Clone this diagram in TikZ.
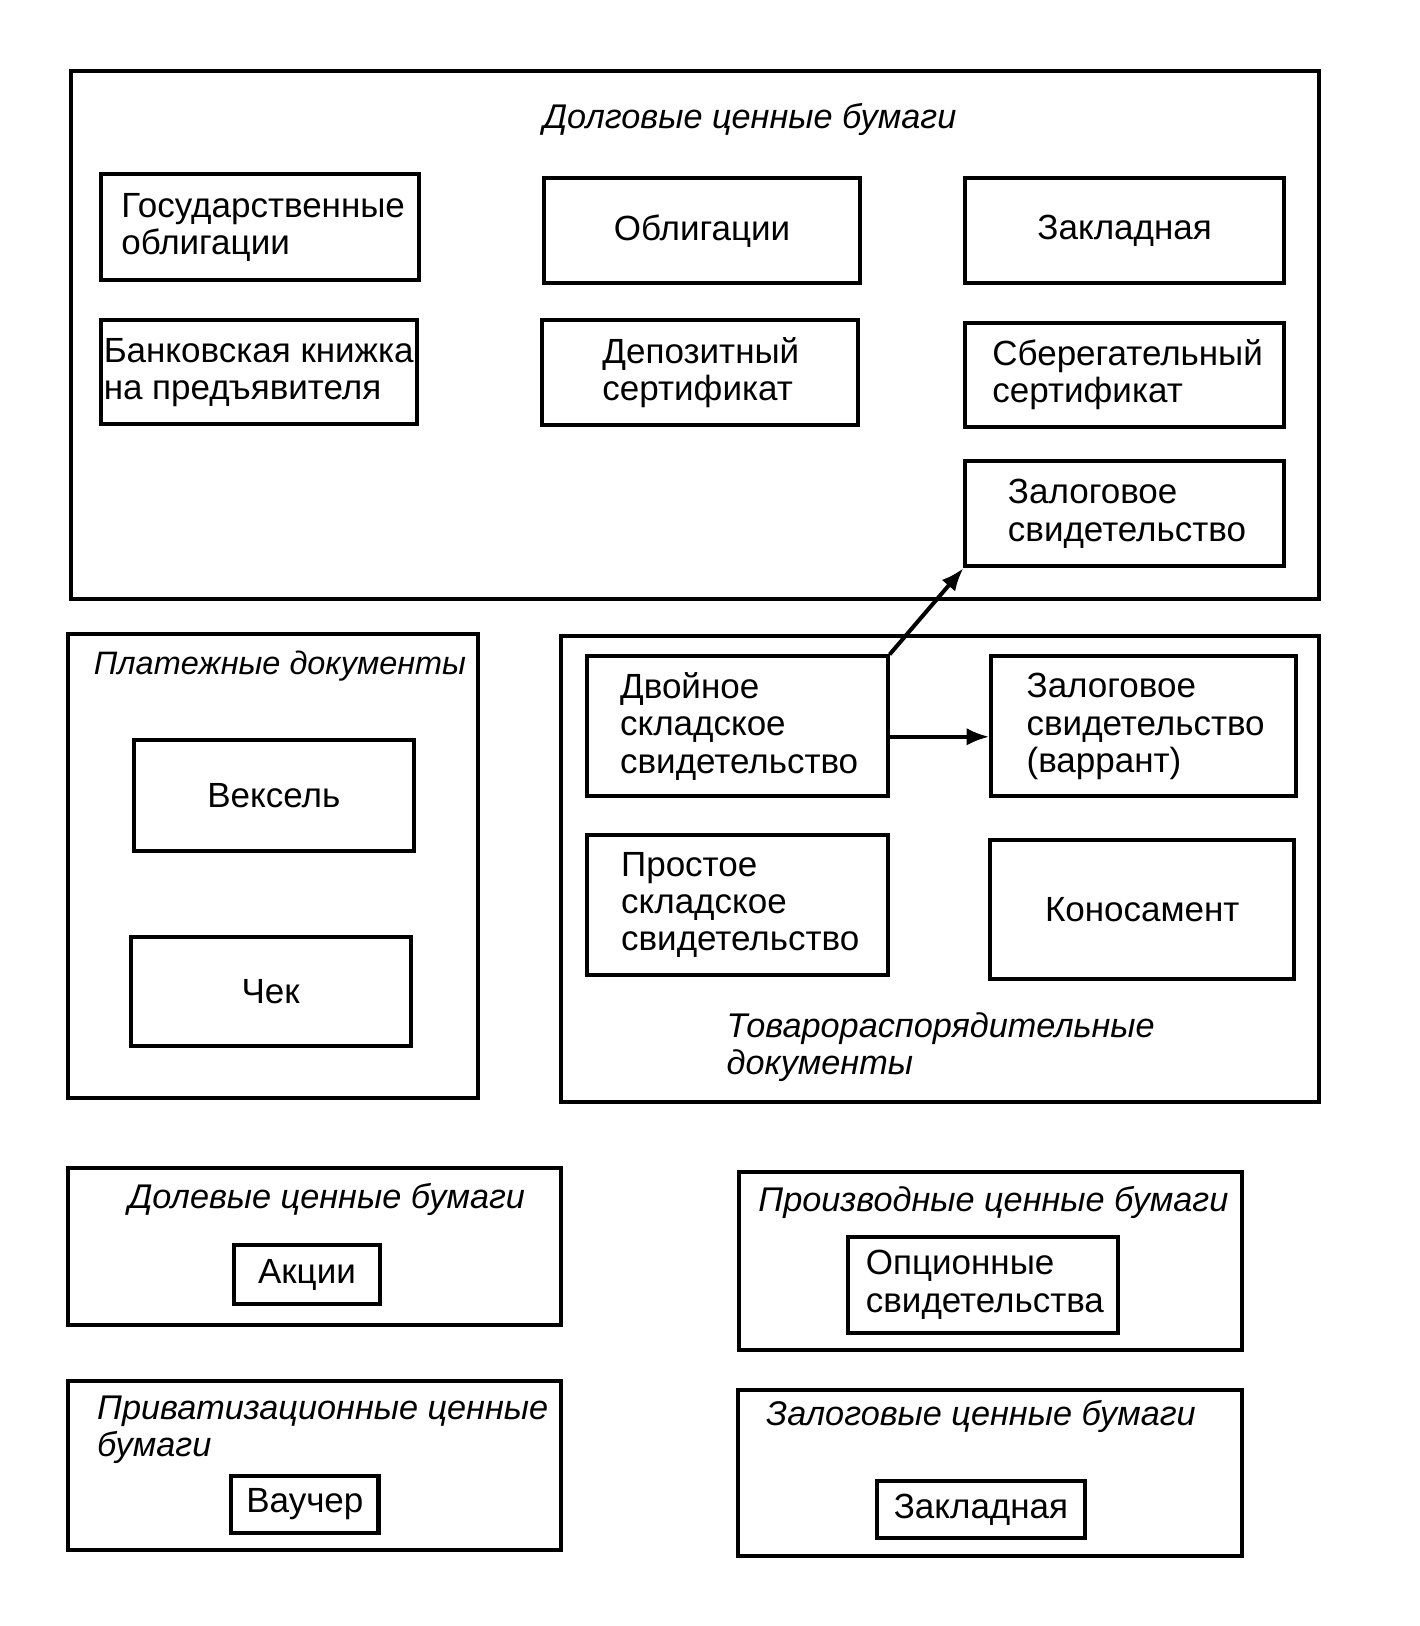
\documentclass[tikz,border=0pt]{standalone}
\usepackage{fontspec}
\setmainfont{Liberation Sans}
\usetikzlibrary{arrows.meta,positioning}
\tikzset{>={Latex[length=2.2mm,width=1.7mm]}}
\tikzset{
    frame/.style={draw,rectangle,line width=1.1pt,inner sep=0pt},
    doc/.style={frame,font=\fontsize{9.6}{10.2}\selectfont},
    group/.style={font=\fontsize{9.4}{10.2}\selectfont\itshape,inner sep=0pt},
}

\begin{document}
\begin{tikzpicture}[x=0.1mm,y=-0.1mm]
            \useasboundingbox (0,0) rectangle (1369,1568);
            % outer groups
            \node[frame,minimum width=120.4mm,minimum height=51mm] (dolgovye) at (670,323) {};
            \node[frame,minimum width=39.5mm,minimum height=44.8mm] (platezh) at (263.5,835) {};
            \node[frame,minimum width=73.1mm,minimum height=45mm] (tovar) at (906.5,838) {};
            \node[frame,minimum width=47.5mm,minimum height=15.2mm] (dolevye) at (303.5,1202) {};
            \node[frame,minimum width=48.5mm,minimum height=17.2mm] (proizv) at (955.5,1216) {};
            \node[frame,minimum width=47.5mm,minimum height=16.3mm] (privat) at (303.5,1413.5) {};
            \node[frame,minimum width=48.6mm,minimum height=16mm] (zalogovye) at (955,1420) {};
            % titles
            \node[group] (dolgovyetitle) at (723,115) {Долговые ценные бумаги};
            \node[group,font=\fontsize{8.9}{10.2}\selectfont\itshape] (platezhtitle) at (270,642) {Платежные документы};
            \node[group,anchor=west,align=left] (tovartitle) at (700,1010) {Товарораспорядительные\\документы};
            \node[group] (dolevyetitle) at (315,1157) {Долевые ценные бумаги};
            \node[group] (proizvtitle) at (958,1160) {Производные ценные бумаги};
            \node[group,anchor=west,align=left] (privattitle) at (93,1379) {Приватизационные ценные\\бумаги};
            \node[group] (zalogovyetitle) at (946,1366) {Залоговые ценные бумаги};
            % debt papers
            \node[doc,minimum width=30.7mm,minimum height=10.2mm,text width=26.7mm,align=left] (gosobl) at (250.5,219) {Государственные\\облигации};
            \node[doc,minimum width=30.4mm,minimum height=10.1mm] (obligacii) at (677,222.5) {Облигации};
            \node[doc,minimum width=30.7mm,minimum height=10.1mm] (zakladnaya) at (1084.5,222.5) {Закладная};
            \node[doc,minimum width=30.5mm,minimum height=10mm,align=left] (bankknizhka) at (249.5,359) {Банковская книжка\\на предъявителя};
            \node[doc,minimum width=30.4mm,minimum height=10.1mm,text width=18.8mm,align=left] (depozit) at (675,359.5) {Депозитный\\сертификат};
            \node[doc,minimum width=30.7mm,minimum height=10.1mm,text width=25.5mm,align=left] (sbereg) at (1084.5,361.5) {Сберегательный\\сертификат};
            \node[doc,minimum width=30.7mm,minimum height=10.1mm,text width=22.5mm,align=left] (zalogsv) at (1084.5,495.5) {Залоговое\\свидетельство};
            % payment documents
            \node[doc,minimum width=27mm,minimum height=10.7mm] (veksel) at (264,767.5) {Вексель};
            \node[doc,minimum width=27mm,minimum height=10.5mm] (chek) at (261,956.5) {Чек};
            % goods documents
            \node[doc,minimum width=29mm,minimum height=13.5mm,text width=22.6mm,align=left] (dvoinoe) at (711,700.5) {Двойное\\складское\\свидетельство};
            \node[doc,minimum width=29.4mm,minimum height=13.5mm,text width=22.6mm,align=left] (varrant) at (1103,700.5) {Залоговое\\свидетельство\\(варрант)};
            \node[doc,minimum width=29mm,minimum height=13.5mm,text width=22.4mm,align=left] (prostoe) at (711,872.5) {Простое\\складское\\свидетельство};
            \node[doc,minimum width=29.3mm,minimum height=13.4mm] (konosament) at (1101.5,877) {Коносамент};
            % small groups
            \node[doc,minimum width=14mm,minimum height=5.6mm] (akcii) at (296,1229) {Акции};
            \node[doc,minimum width=26mm,minimum height=9.2mm,text width=22.6mm,align=left] (opcion) at (948,1239) {Опционные\\свидетельства};
            \node[doc,minimum width=14.2mm,minimum height=5.5mm] (vaucher) at (294,1450.5) {Ваучер};
            \node[doc,minimum width=20mm,minimum height=5.5mm] (zakladnayatwo) at (946,1455.5) {Закладная};
            % arrows
            \draw[->,line width=1.1pt] ([yshift=-1mm]dvoinoe.east) -- ([yshift=-1mm]varrant.west);
            \draw[->,line width=1.1pt] (dvoinoe.north east) -- (zalogsv.south west);
        \end{tikzpicture}
\end{document}
